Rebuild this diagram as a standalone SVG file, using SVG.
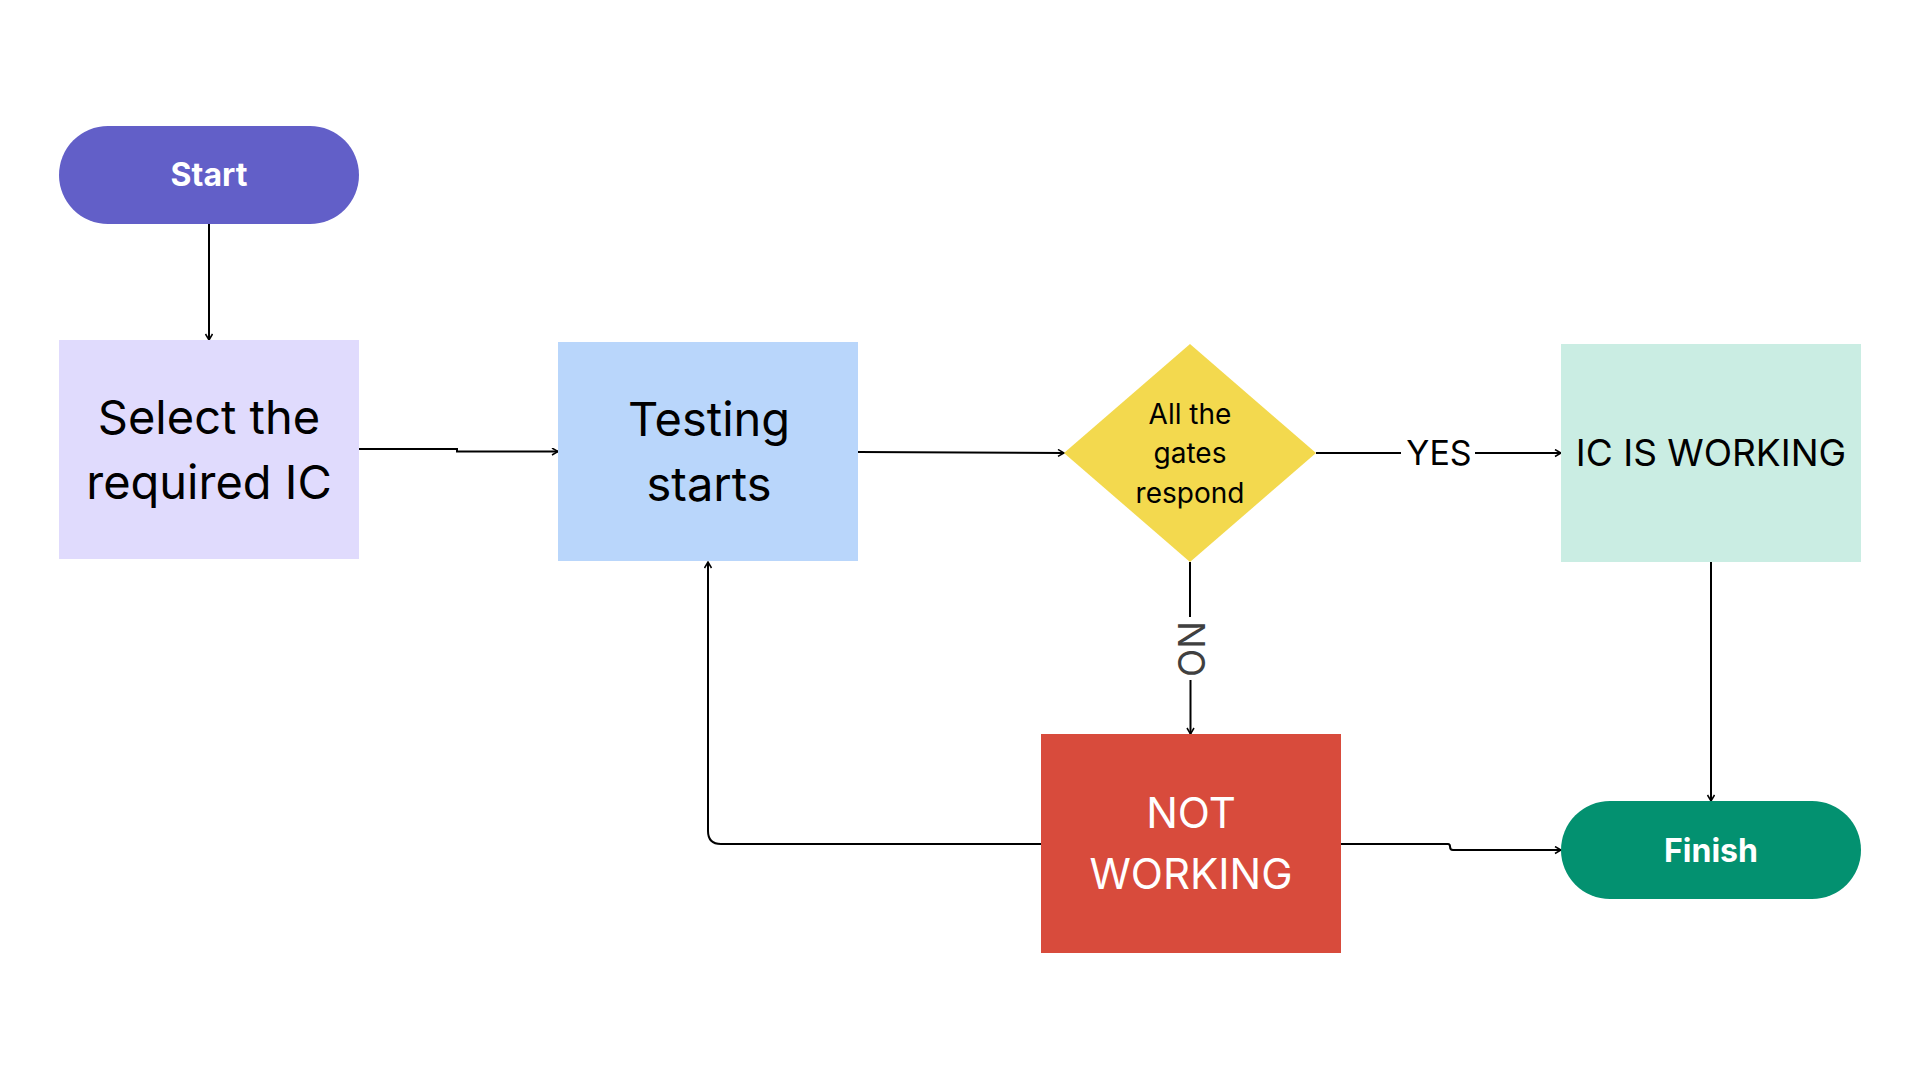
<svg xmlns="http://www.w3.org/2000/svg" width="1920" height="1080" viewBox="0 0 1920 1080">
<defs>
<marker id="arr" markerWidth="10" markerHeight="10" refX="7" refY="4" orient="auto" markerUnits="userSpaceOnUse">
<path d="M1,0.5 L7,4 L1,7.5" fill="none" stroke="#000" stroke-width="1.5"/>
</marker>
<style>
text{font-family:Inter,"Liberation Sans",sans-serif;text-anchor:middle}
.c{fill:none;stroke:#000;stroke-width:2}
.t{font-size:47px;fill:#000}
.w{fill:#fff}
.b{font-weight:700;font-size:32px;fill:#fff}
</style>
</defs>
<rect width="1920" height="1080" fill="#fff"/>
<g id="connectors">
<path class="c" d="M209 224 V340" marker-end="url(#arr)"/>
<path class="c" d="M359 449 H457 V451.5 H558" marker-end="url(#arr)"/>
<path class="c" d="M858 452 L1064 453" marker-end="url(#arr)"/>
<path class="c" d="M1316 453 H1401"/>
<path class="c" d="M1475 453 H1561" marker-end="url(#arr)"/>
<path class="c" d="M1190 562 V617"/>
<path class="c" d="M1190.5 680 V734" marker-end="url(#arr)"/>
<path class="c" d="M1711 562 V801" marker-end="url(#arr)"/>
<path class="c" d="M1041 844 H721 Q708 844 708 831 V562" marker-end="url(#arr)"/>
<path class="c" d="M1341 844 H1448 Q1450 844 1450 846.5 Q1450 850 1453 850 H1561" marker-end="url(#arr)"/>
<text x="1439" y="465" font-size="34" fill="#000">YES</text>
<text transform="translate(1178 649) rotate(90)" x="0" y="0" font-size="37" fill="#404040">NO</text>
</g>
<g id="start">
<rect x="59" y="126" width="300" height="98" rx="49" fill="#625FC8"/>
<text class="b" x="209" y="186">Start</text>
</g>
<g id="select">
<rect x="59" y="340" width="300" height="219" fill="#E0DBFD"/>
<text class="t" x="209" y="434">Select the</text>
<text class="t" x="209" y="499">required IC</text>
</g>
<g id="testing">
<rect x="558" y="342" width="300" height="219" fill="#B9D6FB"/>
<text class="t" x="709" y="436">Testing</text>
<text class="t" x="709" y="501">starts</text>
</g>
<g id="decision">
<polygon points="1190,344 1316,453 1190,562 1064,453" fill="#F3D94E"/>
<text x="1190" y="424" font-size="28" fill="#000">All the</text>
<text x="1190" y="463" font-size="28" fill="#000">gates</text>
<text x="1190" y="503" font-size="28" fill="#000">respond</text>
</g>
<g id="working">
<rect x="1561" y="344" width="300" height="218" fill="#CAEDE3"/>
<text x="1711" y="466" font-size="37" fill="#000">IC IS WORKING</text>
</g>
<g id="notworking">
<rect x="1041" y="734" width="300" height="219" fill="#D84B3C"/>
<text class="w" x="1191" y="828" font-size="42">NOT</text>
<text class="w" x="1191" y="889" font-size="42">WORKING</text>
</g>
<g id="finish">
<rect x="1561" y="801" width="300" height="98" rx="49" fill="#039170"/>
<text class="b" x="1711" y="862">Finish</text>
</g>
</svg>
